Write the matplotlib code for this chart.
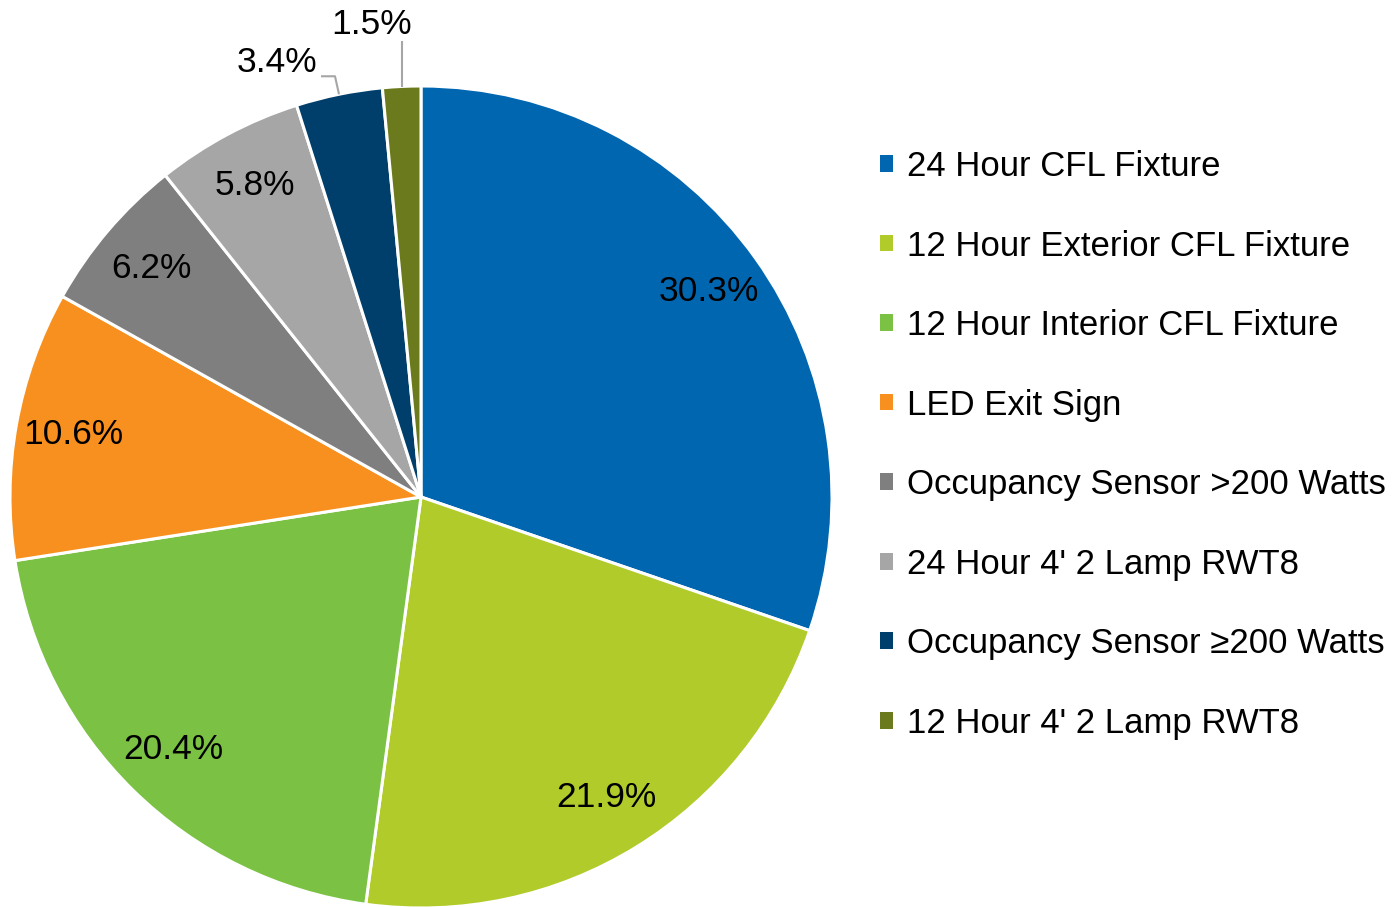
import numpy as np
import matplotlib.pyplot as plt

categories = ["24 Hour CFL Fixture", "12 Hour Exterior CFL Fixture",
              "12 Hour Interior CFL Fixture", "LED Exit Sign",
              "Occupancy Sensor >200 Watts", "24 Hour 4' 2 Lamp RWT8",
              "Occupancy Sensor \u2265200 Watts", "12 Hour 4' 2 Lamp RWT8"]
shares = [30.3, 21.9, 20.4, 10.6, 6.2, 5.8, 3.4, 1.5]
colors = ["#0066b0", "#b0cb2a", "#7bc143", "#f7901e",
          "#7f7f7f", "#a6a6a6", "#003f6b", "#6b7a1c"]

plt.rcParams['font.family'] = ['Liberation Sans', 'DejaVu Sans']

W, H = 1398, 907
fig = plt.figure(figsize=(W / 100, H / 100), dpi=100)
ax = fig.add_axes([0, 0, 1, 1])

cx, cy, R = 421, H - 497, 411
wedges, _ = ax.pie(shares, colors=colors, startangle=90, counterclock=False,
                   center=(cx, cy), radius=R, frame=True,
                   wedgeprops=dict(edgecolor='white', linewidth=2.2))
ax.set_xlim(0, W)
ax.set_ylim(0, H)
ax.set_aspect('equal')
ax.axis('off')

fs = 25.5
for w, s in zip(wedges, shares):
    mid = np.deg2rad((w.theta1 + w.theta2) / 2)
    txt = f"{s:.1f}%"
    if s > 5:
        r = 0.86 * R
        ax.text(cx + r * np.cos(mid), cy + r * np.sin(mid), txt,
                ha='center', va='center', fontsize=fs, color='black')
    else:
        ex, ey = cx + R * np.cos(mid), cy + R * np.sin(mid)
        if s > 2:
            # label up-left with elbow leader
            ax.plot([ex, ex - 4, ex - 18], [ey, ey + 18, ey + 18],
                    color='#a6a6a6', lw=1.5, solid_capstyle='butt')
            ax.text(ex - 22, ey + 32, txt, ha='right', va='center',
                    fontsize=fs, color='black')
        else:
            ax.plot([ex, ex], [ey, ey + 44], color='#a6a6a6', lw=1.5)
            ax.text(ex - 30, ey + 62, txt, ha='center', va='center',
                    fontsize=fs, color='black')

leg = ax.legend(wedges, categories, loc='upper left',
                bbox_to_anchor=(880 / W, 1 - 150 / H), bbox_transform=fig.transFigure,
                frameon=False, fontsize=25, handlelength=0.36, handleheight=0.36,
                handletextpad=0.42, labelspacing=1.34, borderpad=0, borderaxespad=0)
for h in leg.legend_handles:
    h.set_edgecolor('none')

fig.savefig('out.png', dpi=100)
